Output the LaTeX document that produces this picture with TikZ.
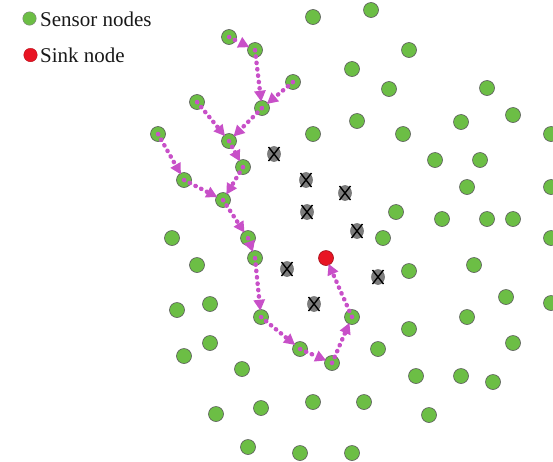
\documentclass[tikz,border=0pt]{standalone}
\usepackage{fontspec}
\setmainfont{Liberation Serif}
\usetikzlibrary{arrows.meta,shapes.geometric}
\definecolor{sgreen}{RGB}{108,190,69}
\definecolor{sred}{RGB}{232,20,35}
\definecolor{pinkc}{RGB}{200,80,200}
\definecolor{deadgray}{RGB}{125,125,125}
\tikzset{
  sensor/.style={circle, fill=sgreen, draw=black!65, line width=0.6pt, minimum size=15pt, inner sep=0pt},
  sinknode/.style={circle, fill=sred, draw=sred!70!black, line width=0.6pt, minimum size=15pt, inner sep=0pt},
  lgsensor/.style={circle, fill=sgreen, draw=black!50, line width=0.4pt, minimum size=13.5pt, inner sep=0pt},
  lgsink/.style={circle, fill=sred, draw=sred!80!black, line width=0.4pt, minimum size=13.5pt, inner sep=0pt},
  dead/.style={ellipse, fill=deadgray, draw=black!60, line width=0.5pt, minimum width=13pt, minimum height=15pt, inner sep=0pt},
  xmark/.style={draw=black, line width=1.4pt},
  link/.style={draw=pinkc, line width=4.4pt, line cap=round, dash pattern=on 0.4pt off 6pt,
    -{Triangle[length=11pt,width=11pt,line cap=butt]}, shorten >=-1.5pt},
  lgtext/.style={font=\fontsize{21pt}{24pt}\selectfont, anchor=base west, inner sep=0pt, text=black!90}
}
\begin{document}
\begin{tikzpicture}[x=1pt,y=-1pt]
\useasboundingbox (0,0) rectangle (553,461);
% legend
\node[lgsensor] (lg1) at (29.5,18.5) {};
\node[lgtext] (lgt1) at (40,26) {Sensor nodes};
\node[lgsink] (lg2) at (30.5,55) {};
\node[lgtext] (lgt2) at (40,62) {Sink node};
% plain sensor nodes
\foreach \n/\x/\y in {s1/313/17, s2/371/10, s3/352/69, s4/389/89, s5/409/50, s6/487/88,
  s7/513/115, s8/461/122, s9/357/121, s10/313/134, s11/403/134, s12/551/134, s13/435/160,
  s14/480/160, s15/467/187, s16/551/187, s17/396/212, s18/442/219, s19/487/219, s20/513/219,
  s21/551/238, s22/383/238, s23/172/238, s24/197/265, s25/409/271, s26/474/265, s27/506/297,
  s28/551/303, s29/177/310, s30/210/304, s31/467/317, s32/409/329, s33/513/343, s34/378/349,
  s35/210/343, s36/184/356, s37/242/369, s38/416/376, s39/461/376, s40/493/382, s41/429/415,
  s42/313/402, s43/364/402, s44/261/408, s45/216/414, s46/248/447, s47/300/453, s48/352/453}
  {\node[sensor] (\n) at (\x,\y) {};}
% path sensor nodes
\foreach \n/\x/\y in {p1/229/37, p2/255/50, p3/293/82, p4/262/108, p5/197/102, p6/158/134,
  p7/229/141, p8/243/167, p9/184/180, p10/223/200, p11/248/238, p12/255/258, p13/261/317,
  p14/300/349, p15/332/363, p16/352/317}
  {\node[sensor] (\n) at (\x,\y) {};}
% sink
\node[sinknode] (sink) at (326,258) {};
% dead nodes
\foreach \n/\x/\y in {d1/274/154, d2/306/180, d3/345/193, d4/307/212, d5/357/231,
  d6/287/269, d7/378/277, d8/314/304}
  {\node[dead] (\n) at (\x,\y) {};
   \draw[xmark] ([shift={(-5.5,-7)}]\n.center) -- ([shift={(5.5,7)}]\n.center)
                ([shift={(5.5,-7)}]\n.center) -- ([shift={(-5.5,7)}]\n.center);}
% routes
\foreach \a/\b in {p1/p2, p2/p4, p3/p4, p4/p7, p5/p7, p7/p8, p8/p10, p6/p9, p9/p10,
  p10/p11, p11/p12, p12/p13, p13/p14, p14/p15, p15/p16, p16/sink}
  {\draw[link] (\a.center) -- (\b);}
\end{tikzpicture}
\end{document}
